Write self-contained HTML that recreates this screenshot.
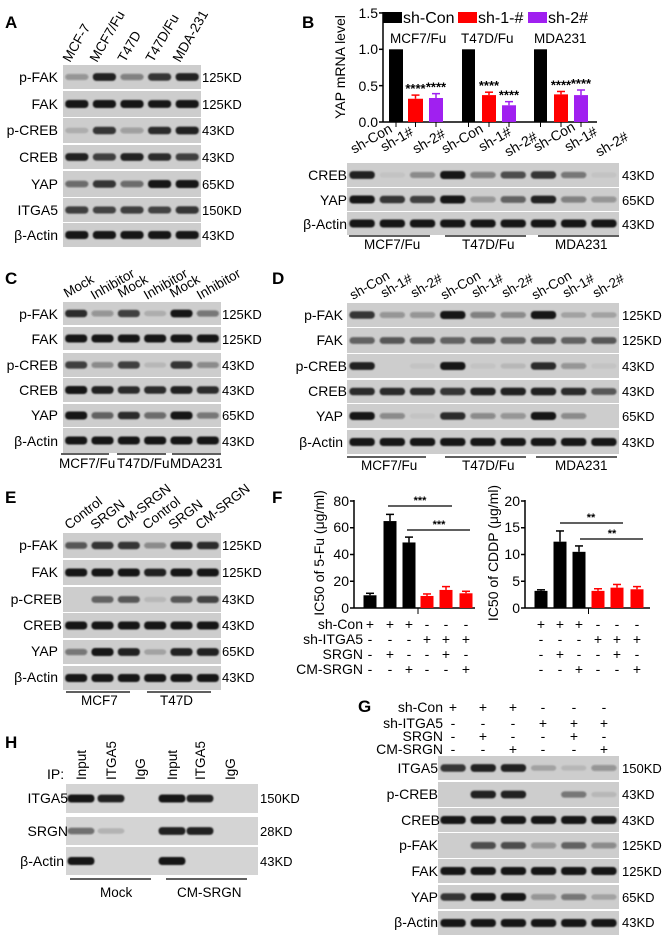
<!DOCTYPE html>
<html><head><meta charset="utf-8"><style>
html,body{margin:0;padding:0;background:#fff;}
svg{display:block;font-family:"Liberation Sans",Arial,sans-serif;}
.l{font-size:14px;text-anchor:end;}
.k{font-size:13px;}
.P{font-size:17px;font-weight:bold;}
.c{font-size:13.5px;}
</style></head><body>
<svg id="s" width="667" height="941" viewBox="0 0 667 941" xmlns="http://www.w3.org/2000/svg">
<defs><filter id="bl" x="-20%" y="-50%" width="140%" height="200%"><feGaussianBlur stdDeviation="0.9"/></filter></defs>
<g id="blots"></g>
<!-- Panel labels -->
<text class="P" x="5" y="28">A</text>
<text class="P" x="302" y="28">B</text>
<text class="P" x="5" y="284">C</text>
<text class="P" x="272" y="284">D</text>
<text class="P" x="5" y="503">E</text>
<text class="P" x="272" y="503">F</text>
<text class="P" x="358" y="712">G</text>
<text class="P" x="5" y="748">H</text>

<!-- A -->
<g class="c">
<text transform="translate(70,63) rotate(-60)">MCF-7</text>
<text transform="translate(97,63) rotate(-60)">MCF7/Fu</text>
<text transform="translate(125,63) rotate(-60)">T47D</text>
<text transform="translate(153,63) rotate(-60)">T47D/Fu</text>
<text transform="translate(180,63) rotate(-60)">MDA-231</text>
</g>
<g class="l">
<text x="58" y="82">p-FAK</text><text x="58" y="109">FAK</text><text x="58" y="135">p-CREB</text>
<text x="58" y="162">CREB</text><text x="58" y="189">YAP</text><text x="58" y="215">ITGA5</text><text x="58" y="240">β-Actin</text>
</g>
<g class="k">
<text x="202" y="82">125KD</text><text x="202" y="109">125KD</text><text x="202" y="135">43KD</text>
<text x="202" y="162">43KD</text><text x="202" y="189">65KD</text><text x="202" y="215">150KD</text><text x="202" y="240">43KD</text>
</g>

<!-- B chart -->
<g id="bchart"></g>
<text transform="translate(345,67) rotate(-90)" style="font-size:14px;text-anchor:middle">YAP mRNA level</text>
<g style="font-size:14px;text-anchor:end">
<text x="378" y="18">1.5</text><text x="378" y="54">1.0</text><text x="378" y="91">0.5</text><text x="378" y="127">0.0</text>
</g>
<rect x="383" y="12" width="19" height="11" fill="#000"/><text x="403" y="23" style="font-size:16px">sh-Con</text>
<rect x="458" y="12" width="19" height="11" fill="#f00"/><text x="478" y="23" style="font-size:16px">sh-1-#</text>
<rect x="528" y="12" width="19" height="11" fill="#a020f0"/><text x="548" y="23" style="font-size:16px">sh-2#</text>
<g style="font-size:13.5px">
<text x="390" y="43">MCF7/Fu</text><text x="461" y="43">T47D/Fu</text><text x="534" y="43">MDA231</text>
</g>
<g style="font-size:14px">
<text transform="translate(354,154) rotate(-30)">sh-Con</text>
<text transform="translate(384,152) rotate(-30)">sh-1#</text>
<text transform="translate(416,154) rotate(-30)">sh-2#</text>
<text transform="translate(445,154) rotate(-30)">sh-Con</text>
<text transform="translate(482,152) rotate(-30)">sh-1#</text>
<text transform="translate(508,157) rotate(-30)">sh-2#</text>
<text transform="translate(537,152) rotate(-30)">sh-Con</text>
<text transform="translate(568,152) rotate(-30)">sh-1#</text>
<text transform="translate(599,157) rotate(-30)">sh-2#</text>
</g>
<g class="l"><text x="347" y="180">CREB</text><text x="347" y="205">YAP</text><text x="347" y="229">β-Actin</text></g>
<g class="k"><text x="622" y="180">43KD</text><text x="622" y="205">65KD</text><text x="622" y="229">43KD</text></g>
<g class="c"><text x="364" y="249">MCF7/Fu</text><text x="462" y="249">T47D/Fu</text><text x="555" y="249">MDA231</text></g>

<!-- C -->
<g class="c">
<text transform="translate(67,298) rotate(-30)">Mock</text>
<text transform="translate(94,300) rotate(-30)">Inhibitor</text>
<text transform="translate(121,298) rotate(-30)">Mock</text>
<text transform="translate(147,300) rotate(-30)">Inhibitor</text>
<text transform="translate(173,298) rotate(-30)">Mock</text>
<text transform="translate(200,300) rotate(-30)">Inhibitor</text>
</g>
<g class="l">
<text x="58" y="319">p-FAK</text><text x="58" y="344">FAK</text><text x="58" y="370">p-CREB</text>
<text x="58" y="395">CREB</text><text x="58" y="420">YAP</text><text x="58" y="446">β-Actin</text>
</g>
<g class="k">
<text x="222" y="319">125KD</text><text x="222" y="344">125KD</text><text x="222" y="370">43KD</text>
<text x="222" y="395">43KD</text><text x="222" y="420">65KD</text><text x="222" y="446">43KD</text>
</g>
<g class="c"><text x="59" y="468">MCF7/Fu</text><text x="117" y="468">T47D/Fu</text><text x="170" y="468">MDA231</text></g>

<!-- D -->
<g class="c">
<text transform="translate(353,300) rotate(-30)">sh-Con</text>
<text transform="translate(384,298) rotate(-30)">sh-1#</text>
<text transform="translate(414,298) rotate(-30)">sh-2#</text>
<text transform="translate(444,300) rotate(-30)">sh-Con</text>
<text transform="translate(475,298) rotate(-30)">sh-1#</text>
<text transform="translate(505,298) rotate(-30)">sh-2#</text>
<text transform="translate(535,300) rotate(-30)">sh-Con</text>
<text transform="translate(566,298) rotate(-30)">sh-1#</text>
<text transform="translate(596,298) rotate(-30)">sh-2#</text>
</g>
<g class="l">
<text x="343" y="320">p-FAK</text><text x="343" y="345">FAK</text><text x="347" y="371">p-CREB</text>
<text x="347" y="396">CREB</text><text x="343" y="421">YAP</text><text x="343" y="447">β-Actin</text>
</g>
<g class="k">
<text x="622" y="320">125KD</text><text x="622" y="345">125KD</text><text x="622" y="371">43KD</text>
<text x="622" y="396">43KD</text><text x="622" y="421">65KD</text><text x="622" y="447">43KD</text>
</g>
<g class="c"><text x="361" y="470">MCF7/Fu</text><text x="462" y="470">T47D/Fu</text><text x="555" y="470">MDA231</text></g>

<!-- E -->
<g class="c">
<text transform="translate(69,530) rotate(-38)">Control</text>
<text transform="translate(95,530) rotate(-38)">SRGN</text>
<text transform="translate(121,530) rotate(-38)">CM-SRGN</text>
<text transform="translate(147,530) rotate(-38)">Control</text>
<text transform="translate(173,530) rotate(-38)">SRGN</text>
<text transform="translate(200,530) rotate(-38)">CM-SRGN</text>
</g>
<g class="l">
<text x="58" y="550">p-FAK</text><text x="58" y="577">FAK</text><text x="62" y="604">p-CREB</text>
<text x="62" y="630">CREB</text><text x="58" y="656">YAP</text><text x="58" y="682">β-Actin</text>
</g>
<g class="k">
<text x="222" y="550">125KD</text><text x="222" y="577">125KD</text><text x="222" y="604">43KD</text>
<text x="222" y="630">43KD</text><text x="222" y="656">65KD</text><text x="222" y="682">43KD</text>
</g>
<g class="c"><text x="81" y="705">MCF7</text><text x="160" y="705">T47D</text></g>

<!-- F -->
<g id="fchart"></g>
<text transform="translate(324,553) rotate(-90)" style="font-size:14px;text-anchor:middle">IC50 of 5-Fu (μg/ml)</text>
<text transform="translate(498,553) rotate(-90)" style="font-size:14px;text-anchor:middle">IC50 of CDDP (μg/ml)</text>
<g style="font-size:14px;text-anchor:end">
<text x="349" y="506">80</text><text x="349" y="532">60</text><text x="349" y="559">40</text><text x="349" y="586">20</text><text x="349" y="613">0</text>
<text x="520" y="506">20</text><text x="520" y="532">15</text><text x="520" y="559">10</text><text x="520" y="586">5</text><text x="520" y="613">0</text>
</g>
<g style="font-size:14px;text-anchor:end">
<text x="363" y="629">sh-Con</text><text x="363" y="644">sh-ITGA5</text><text x="363" y="659">SRGN</text><text x="363" y="674">CM-SRGN</text>
</g>
<g id="ftab" style="font-size:14px;text-anchor:middle"></g>
<g style="font-size:11px;text-anchor:middle;font-weight:bold">
<text x="420" y="504">***</text><text x="439" y="528">***</text>
<text x="591" y="521">**</text><text x="612" y="537">**</text>
</g>

<!-- G -->
<g style="font-size:14px;text-anchor:end">
<text x="443" y="712">sh-Con</text><text x="443" y="728">sh-ITGA5</text><text x="443" y="741">SRGN</text><text x="443" y="754">CM-SRGN</text>
</g>
<g id="gtab" style="font-size:14px;text-anchor:middle"></g>
<g class="l">
<text x="438" y="773">ITGA5</text><text x="438" y="799">p-CREB</text><text x="440" y="825">CREB</text><text x="438" y="850">p-FAK</text>
<text x="438" y="876">FAK</text><text x="438" y="902">YAP</text><text x="438" y="927">β-Actin</text>
</g>
<g class="k">
<text x="622" y="773">150KD</text><text x="622" y="799">43KD</text><text x="622" y="825">43KD</text><text x="622" y="850">125KD</text>
<text x="622" y="876">125KD</text><text x="622" y="902">65KD</text><text x="622" y="927">43KD</text>
</g>

<!-- H -->
<text x="47" y="779" style="font-size:14px">IP:</text>
<g class="c">
<text transform="translate(86,780) rotate(-90)">Input</text>
<text transform="translate(116,780) rotate(-90)">ITGA5</text>
<text transform="translate(145,780) rotate(-90)">IgG</text>
<text transform="translate(177,780) rotate(-90)">Input</text>
<text transform="translate(205,780) rotate(-90)">ITGA5</text>
<text transform="translate(235,780) rotate(-90)">IgG</text>
</g>
<g class="l"><text x="68" y="803">ITGA5</text><text x="68" y="836">SRGN</text><text x="64" y="866">β-Actin</text></g>
<g class="k"><text x="260" y="803">150KD</text><text x="260" y="836">28KD</text><text x="260" y="866">43KD</text></g>
<g class="c"><text x="100" y="897">Mock</text><text x="177" y="897">CM-SRGN</text></g>
</svg>
<script>
var NS="http://www.w3.org/2000/svg",B=document.getElementById('blots');
function el(p,t,a){var e=document.createElementNS(NS,t);for(var k in a)e.setAttribute(k,a[k]);p.appendChild(e);return e;}
function lanes(x0,x1,n){var w=(x1-x0)/n,r=[];for(var i=0;i<n;i++)r.push(x0+w*(i+.5));return r;}
function blot(x0,x1,rows,L,ul,uly,bg){
  var w=(x1-x0)/L.length*0.84;
  rows.forEach(function(r){
    el(B,'rect',{x:x0,y:r[0],width:x1-x0,height:r[1]-r[0],fill:r[3]||bg||'#cdcdcd'});
    var cy=(r[0]+r[1])/2;
    r[2].forEach(function(v,i){ if(v<=0)return;
      var h=5+v*3;
      el(B,'rect',{x:L[i]-w/2,y:cy-h/2,width:w,height:h,rx:3.5,fill:'#151515','fill-opacity':Math.min(1,v*1.05),filter:'url(#bl)'});});
  });
  if(ul)ul.forEach(function(s){el(B,'line',{x1:s[0],x2:s[1],y1:uly,y2:uly,stroke:'#000','stroke-width':1.3});});
}
var one=[1,1,1,1,1,1,1,1,1];
blot(63,201,[[65,89,[.3,.9,.4,.8,.9]],[91,117,[1,1,1,.95,1]],[118,143,[.15,.8,.25,.85,.9]],[145,169,[.9,.75,.9,.85,.75]],[171,197,[.5,.8,.5,1,1]],[198,222,[.75,.7,.75,.7,.8]],[223,247,[1,1,1,1,1]]],lanes(63,201,5));
var LB=lanes(347,619,9);
blot(347,619,[[163,187,[.9,.05,.35,1,.4,.65,.8,.45,.05]],[188,211,[1,.8,.75,1,.3,.55,.9,.4,.3]],[212,235,one]],LB,[[349,430],[445,526],[538,619]],236);
var LC=lanes(63,221,6);
blot(63,221,[[302,325,[.85,.3,.75,.15,.95,.45]],[327,350,[1,1,1,1,1,1]],[353,377,[.75,.35,.75,.1,.8,.35]],[378,402,[1,.9,.85,.85,.9,.85]],[404,427,[1,.55,.85,.5,1,.45]],[428,453,[1,1,1,1,1,1]]],LC,[[61,109],[117,166],[172,221]],454);
blot(347,619,[[303,327,[.8,.3,.3,1,.4,.35,1,.2,.2]],[328,353,[.55,.6,.6,.55,.6,.55,.65,.55,.6]],[354,378,[.9,0,.05,1,.05,.1,.85,.3,.05]],[380,403,[.85,.85,.85,.8,.9,.9,.9,.85,.6]],[404,428,[1,.35,.05,.85,.35,.3,1,.35,0]],[430,454,one]],LB,[[347,426],[445,526],[536,617]],457);
blot(63,221,[[533,558,[.6,.8,.8,.35,.9,.85]],[560,585,[1,1,1,.9,1,1]],[587,612,[0,.55,.6,.1,.6,.7]],[613,638,[1,1,1,1,1,1]],[640,664,[.45,1,.9,.2,.9,.9]],[666,690,[1,1,1,1,1,1]]],LC,[[66,130],[147,211]],692);
var LG=lanes(438,619,6);
blot(438,619,[[756,780,[.8,.9,.9,.2,.1,.3]],[782,807,[0,.9,.9,0,.45,.1]],[808,832,[1,1,1,1,1,1]],[833,858,[0,.65,.65,.3,.55,.35]],[859,883,[1,1,1,1,1,1]],[885,909,[.8,1,1,.3,.45,.2]],[911,935,[1,1,1,1,1,1]]],LG);
blot(66,258,[[784,813,[1,.9,0,1,.9,0],'#d4d4d4'],[817,845,[.5,.15,0,.9,.9,0],'#d4d4d4'],[847,875,[1,0,0,1,0,0],'#d4d4d4']],[81,111,140,172,200,230],[[70,151],[166,247]],879);

var bc=document.getElementById('bchart');
function Y(v){return 122-v*72.7;}
el(bc,'line',{x1:383,x2:383,y1:12,y2:122,stroke:'#000','stroke-width':1.5});
el(bc,'line',{x1:383,x2:597,y1:122,y2:122,stroke:'#000','stroke-width':1.5});
[0,.5,1,1.5].forEach(function(v){el(bc,'line',{x1:379,x2:383,y1:Y(v),y2:Y(v),stroke:'#000','stroke-width':1.5});});
var bars=[[389,403,1,0,'#000'],[408,423,.32,.05,'#f00'],[429,443,.33,.06,'#a020f0'],[462,475,1,0,'#000'],[482,496,.37,.04,'#f00'],[502,516,.23,.05,'#a020f0'],[534,547,1,0,'#000'],[554,568,.38,.04,'#f00'],[574,588,.37,.07,'#a020f0']];
bars.forEach(function(b,i){var cx=(b[0]+b[1])/2;
 el(bc,'rect',{x:b[0],y:Y(b[2]),width:b[1]-b[0],height:122-Y(b[2]),fill:b[4]});
 el(bc,'line',{x1:cx,x2:cx,y1:122,y2:127,stroke:'#000'});
 if(b[3]){el(bc,'line',{x1:cx,x2:cx,y1:Y(b[2]+b[3]),y2:Y(b[2]),stroke:b[4],'stroke-width':1.5});
 el(bc,'line',{x1:cx-4,x2:cx+4,y1:Y(b[2]+b[3]),y2:Y(b[2]+b[3]),stroke:b[4],'stroke-width':1.5});
 var t=el(bc,'text',{x:cx,y:Y(b[2]+b[3])-2,'text-anchor':'middle','font-size':'13px','font-weight':'bold'});t.textContent='****';}
});
var fc=document.getElementById('fchart');
function chart(ax,end,max,vals,errs,xs,sig){
 function Yf(v){return 608-v/max*107;}
 el(fc,'line',{x1:ax,x2:ax,y1:500,y2:608,stroke:'#000','stroke-width':1.5});
 el(fc,'line',{x1:ax,x2:end,y1:608,y2:608,stroke:'#000','stroke-width':1.5});
 for(var k=0;k<=4;k++){var y=Yf(max/4*k);el(fc,'line',{x1:ax-4,x2:ax,y1:y,y2:y,stroke:'#000','stroke-width':1.5});}
 el(fc,'line',{x1:(xs[2]+xs[3])/2,x2:(xs[2]+xs[3])/2,y1:608,y2:614,stroke:'#000'});
 vals.forEach(function(v,i){var c=i<3?'#000':'#f00';
  el(fc,'rect',{x:xs[i]-6.5,y:Yf(v),width:13,height:608-Yf(v),fill:c});
  el(fc,'line',{x1:xs[i],x2:xs[i],y1:Yf(errs[i]),y2:Yf(v),stroke:c,'stroke-width':1.5});
  el(fc,'line',{x1:xs[i]-4,x2:xs[i]+4,y1:Yf(errs[i]),y2:Yf(errs[i]),stroke:c,'stroke-width':1.5});});
 sig.forEach(function(s){el(fc,'line',{x1:s[0],x2:s[1],y1:s[2],y2:s[2],stroke:'#000','stroke-width':1.2});});
}
var X1=[370,390,409,427,446,466],X2=[541,560,579,598,617,637];
chart(354,475,80,[9.5,65,49,9,13.5,11],[11,70,53,10.5,16,12.5],X1,[[388,452,506],[407,470,530]]);
chart(525,650,20,[3.2,12.4,10.5,3.2,3.8,3.5],[3.4,14.4,11.6,3.6,4.4,4.0],X2,[[560,623,523],[580,643,539]]);
var tab=[['+','+','+','-','-','-'],['-','-','-','+','+','+'],['-','+','-','-','+','-'],['-','-','+','-','-','+']];
var ft=document.getElementById('ftab'),ty=[629,644,659,674];
tab.forEach(function(r,j){r.forEach(function(s,i){
 el(ft,'text',{x:X1[i],y:ty[j]}).textContent=s; el(ft,'text',{x:X2[i],y:ty[j]}).textContent=s;});});
var gt=document.getElementById('gtab'),gy=[712,728,741,754],GX=[453,483,513,543,574,604];
tab.forEach(function(r,j){r.forEach(function(s,i){el(gt,'text',{x:GX[i],y:gy[j]}).textContent=s;});});
</script>
</body></html>
